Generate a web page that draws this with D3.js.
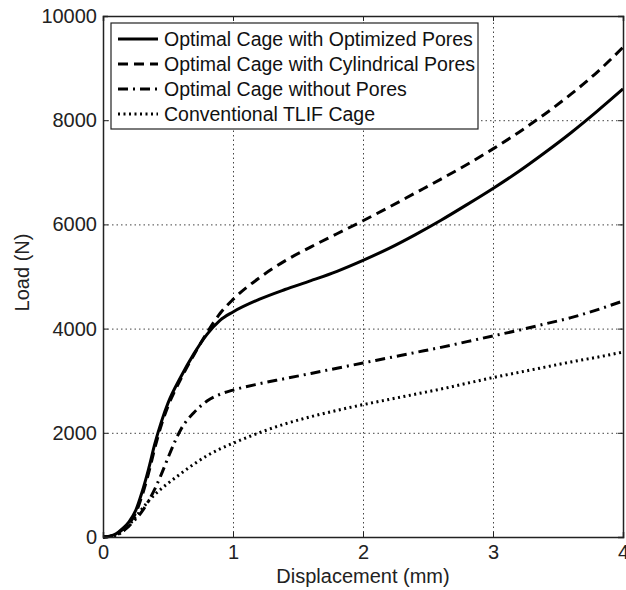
<!DOCTYPE html>
<html>
<head>
<meta charset="utf-8">
<script src="https://cdn.jsdelivr.net/npm/d3@7"></script>
<style>
    body { margin: 0; background: #fff; }
    svg { display: block; font-family: "Liberation Sans", Arial, sans-serif; }
    .axis path, .axis line { stroke: #222; }
    .axis text { fill: #222; font-size: 20px; }
    .grid line { stroke: #444; stroke-dasharray: 1.5,3; }
    .grid path { display: none; }
    .line { fill: none; stroke: #000; stroke-width: 3; }
</style>
</head>
<body>
<div id="chart"></div>
<script>
"use strict";

// displacement (mm), shared by all four curves
var displacement = [0, 0.05, 0.1, 0.15, 0.2, 0.25, 0.3, 0.35, 0.4, 0.45, 0.5, 0.6, 0.7, 0.8, 0.9, 1.0,
                    1.2, 1.4, 1.6, 1.8, 2.0, 2.2, 2.4, 2.6, 2.8, 3.0, 3.2, 3.4, 3.6, 3.8, 4.0];

// load (N)
var optimizedPores = [0, 15, 60, 160, 290, 500, 860, 1300, 1800, 2220, 2570, 3080, 3520, 3890, 4160, 4320,
                      4560, 4750, 4920, 5100, 5310, 5540, 5800, 6080, 6380, 6690, 7020, 7380, 7760, 8170, 8600];
var cylindricalPores = [0, 12, 50, 140, 260, 450, 790, 1220, 1720, 2160, 2510, 3040, 3500, 3920, 4290, 4560,
                        4970, 5300, 5570, 5820, 6070, 6330, 6600, 6870, 7150, 7450, 7770, 8120, 8500, 8920, 9400];
var withoutPores = [0, 10, 40, 110, 210, 340, 490, 690, 930, 1210, 1520, 2070, 2390, 2610, 2740, 2820,
                    2940, 3040, 3140, 3240, 3340, 3440, 3540, 3640, 3750, 3860, 3970, 4090, 4210, 4360, 4530];
var conventionalTLIF = [0, 8, 30, 100, 230, 380, 540, 690, 820, 930, 1030, 1220, 1400, 1560, 1690, 1800,
                        2000, 2170, 2310, 2430, 2540, 2640, 2740, 2840, 2950, 3060, 3160, 3260, 3360, 3450, 3550];

var seriesNames = ["Optimal Cage with Optimized Pores", "Optimal Cage with Cylindrical Pores",
                   "Optimal Cage without Pores", "Conventional TLIF Cage"];
var seriesValues = [optimizedPores, cylindricalPores, withoutPores, conventionalTLIF];
var dashes = [null, "10,6", "10,5,2,5", "2,3.5"];

var xTicks = [0, 1, 2, 3, 4];
var yTicks = [0, 2000, 4000, 6000, 8000, 10000];

var margin = {top: 16, right: 3, bottom: 53, left: 103},
    width = 626 - margin.left - margin.right,
    height = 590 - margin.top - margin.bottom;

var xScale = d3.scaleLinear().domain([0, 4]).range([0, width]);
var yScale = d3.scaleLinear().domain([0, 10000]).range([height, 0]);

var svg = d3.select("#chart").append("svg")
    .attr("width", 626)
    .attr("height", 590);

var g = svg.append("g")
    .attr("transform", "translate(" + margin.left + "," + margin.top + ")");

// grid
g.append("g").attr("class", "grid")
    .attr("transform", "translate(0," + height + ")")
    .call(d3.axisBottom(xScale).tickValues(xTicks).tickSize(-height).tickFormat(""));
g.append("g").attr("class", "grid")
    .call(d3.axisLeft(yScale).tickValues(yTicks).tickSize(-width).tickFormat(""));

// curves
var line = d3.line()
    .x(function(d) { return xScale(d[0]); })
    .y(function(d) { return yScale(d[1]); })
    .curve(d3.curveMonotoneX);

seriesValues.forEach(function(vals, i) {
    var pts = displacement.map(function(x, j) { return [x, vals[j]]; });
    g.append("path")
        .datum(pts)
        .attr("class", "line")
        .attr("d", line)
        .style("stroke-dasharray", dashes[i]);
});

// axes, ticks pointing inward on all four sides
g.append("g").attr("class", "axis")
    .attr("transform", "translate(0," + height + ")")
    .call(d3.axisBottom(xScale).tickValues(xTicks).tickSize(-5).tickPadding(8).tickFormat(d3.format("d")));
g.append("g").attr("class", "axis")
    .call(d3.axisLeft(yScale).tickValues(yTicks).tickSize(-5).tickPadding(6).tickFormat(d3.format("d")));
g.append("g").attr("class", "axis")
    .call(d3.axisTop(xScale).tickValues(xTicks).tickSize(-5).tickFormat(""));
g.append("g").attr("class", "axis")
    .attr("transform", "translate(" + width + ",0)")
    .call(d3.axisRight(yScale).tickValues(yTicks).tickSize(-5).tickFormat(""));
g.selectAll(".axis path").style("stroke-width", 1.5);

// axis titles
g.append("text")
    .attr("x", width / 2)
    .attr("y", height + 46)
    .attr("text-anchor", "middle")
    .style("font-size", "20px")
    .style("fill", "#222")
    .text("Displacement (mm)");
g.append("text")
    .attr("transform", "rotate(-90)")
    .attr("x", -height / 2 + 4)
    .attr("y", -81)
    .attr("dy", ".35em")
    .attr("text-anchor", "middle")
    .style("font-size", "20px")
    .style("fill", "#222")
    .text("Load (N)");

// legend
var legend = g.append("g").attr("transform", "translate(8,7)");
legend.append("rect")
    .attr("width", 367)
    .attr("height", 106)
    .style("fill", "#fff")
    .style("stroke", "#222")
    .style("stroke-width", 1.2);
seriesNames.forEach(function(name, i) {
    var y = 16 + i * 25;
    legend.append("line")
        .attr("x1", 7).attr("x2", 47)
        .attr("y1", y).attr("y2", y)
        .attr("class", "line")
        .style("stroke-dasharray", dashes[i]);
    legend.append("text")
        .attr("x", 53)
        .attr("y", y)
        .attr("dy", ".35em")
        .style("font-size", "19.5px")
        .style("fill", "#111")
        .text(name);
});
</script>
</body>
</html>
